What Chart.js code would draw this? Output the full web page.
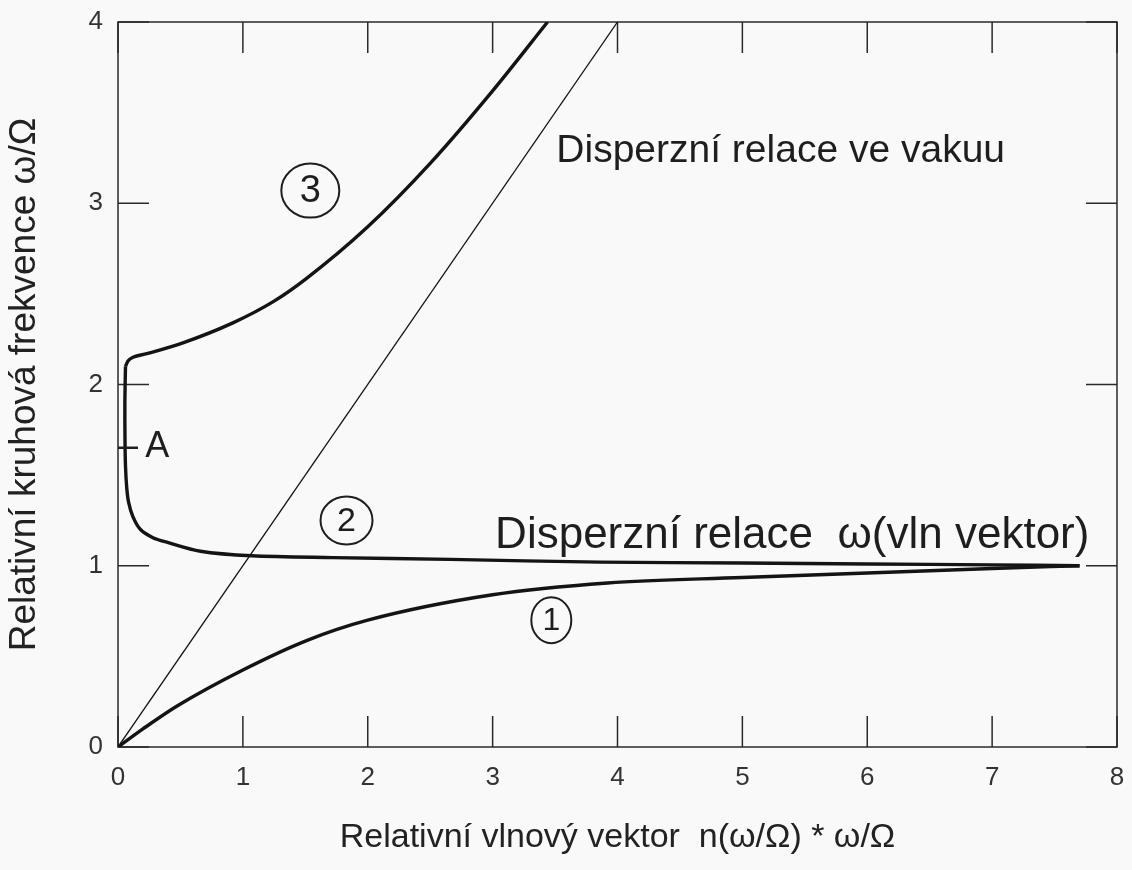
<!DOCTYPE html>
<html>
<head>
<meta charset="utf-8">
<title>Disperzní relace</title>
<script src="https://cdn.jsdelivr.net/npm/chart.js@4.4.0/dist/chart.umd.min.js"></script>
<style>
  html, body { margin: 0; padding: 0; background: #f9f9f9; }
  #graf { display: block; }
</style>
</head>
<body>
<canvas id="graf" width="1132" height="870"></canvas>
<script>
// ------ DATA ------
const tickyX = [0, 1, 2, 3, 4, 5, 6, 7, 8];
const tickyY = [0, 1, 2, 3, 4];

// primka omega = k (vakuum)
const vakuumK = [0, 4];
const vakuumW = [0, 4];

// vetev 1 (dolni)
const vetev1K = [0, 0.2, 0.47, 1.0, 1.52, 2.0, 3.0, 3.92, 5.0, 6.0, 7.0, 7.7];
const vetev1W = [0, 0.1, 0.225, 0.425, 0.59, 0.70, 0.84, 0.905, 0.935, 0.96, 0.985, 1.0];

// vetev 2 (prostredni, od A dolu k 1)
const vetev2K = [0.06, 0.055, 0.056, 0.06, 0.07, 0.085, 0.12, 0.18, 0.28, 0.39, 0.66, 1.07, 1.72, 2.66, 3.86, 5.0, 6.0, 7.0, 7.7];
const vetev2W = [2.10, 1.9, 1.7, 1.55, 1.43, 1.35, 1.27, 1.2, 1.155, 1.13, 1.08, 1.055, 1.045, 1.035, 1.02, 1.015, 1.01, 1.005, 1.0];

// vetev 3 (horni)
const vetev3K = [0.06, 0.08, 0.12, 0.23, 0.52, 0.92, 1.25, 1.5, 2.0, 2.5, 3.0, 3.44];
const vetev3W = [2.10, 2.13, 2.15, 2.17, 2.23, 2.34, 2.46, 2.58, 2.87, 3.22, 3.62, 4.0];

// ------ POPISKY ------
const popisky = [
  { text: 'Disperzní relace ve vakuu', k: 3.51, w: 3.23, size: 39 },
  { text: 'Disperzní relace  ω(vln vektor)', k: 3.02, w: 1.10, size: 44 },
  { text: '–\u2009A', k: 0.0, w: 1.60, size: 36 }
];
// cisla vetvi v krouzku
const krouzky = [
  { text: '3', k: 1.54, w: 3.07, rx: 29, ry: 27, size: 38 },
  { text: '2', k: 1.83, w: 1.25, rx: 26, ry: 24, size: 34 },
  { text: '1', k: 3.47, w: 0.70, rx: 20, ry: 23, size: 32 }
];

function body(ks, ws) {
  return ks.map((k, i) => ({ x: k, y: ws[i] }));
}

const pismo = "'Liberation Sans', Arial, sans-serif";
Chart.defaults.font.family = pismo;
Chart.defaults.color = '#2a2a2a';

const ramecek = {
  id: 'ramecek',
  beforeDraw(chart) {
    const c = chart.ctx;
    c.save();
    c.fillStyle = '#f9f9f9';
    c.fillRect(0, 0, chart.width, chart.height);
    c.restore();
  },
  beforeDatasetsDraw(chart) {
    const { ctx: c, chartArea: a, scales: { x, y } } = chart;
    const delka = 31;
    c.save();
    c.strokeStyle = '#2a2a2a';
    c.lineWidth = 1.5;
    c.strokeRect(a.left, a.top, a.right - a.left, a.bottom - a.top);
    c.beginPath();
    x.ticks.forEach(t => {
      const px = x.getPixelForValue(t.value);
      c.moveTo(px, a.bottom); c.lineTo(px, a.bottom - delka);
      c.moveTo(px, a.top); c.lineTo(px, a.top + delka);
    });
    y.ticks.forEach(t => {
      const py = y.getPixelForValue(t.value);
      c.moveTo(a.left, py); c.lineTo(a.left + delka, py);
      c.moveTo(a.right, py); c.lineTo(a.right - delka, py);
    });
    c.stroke();
    c.restore();
  }
};

const texty = {
  id: 'texty',
  afterDatasetsDraw(chart) {
    const { ctx: c, scales: { x, y } } = chart;
    c.save();
    c.fillStyle = '#1e1e1e';
    c.strokeStyle = '#1e1e1e';
    c.textAlign = 'left';
    c.textBaseline = 'alphabetic';
    popisky.forEach(p => {
      c.font = p.size + 'px ' + pismo;
      c.fillText(p.text, x.getPixelForValue(p.k), y.getPixelForValue(p.w));
    });
    c.textAlign = 'center';
    c.textBaseline = 'middle';
    c.lineWidth = 2;
    krouzky.forEach(p => {
      const px = x.getPixelForValue(p.k);
      const py = y.getPixelForValue(p.w);
      c.beginPath();
      c.ellipse(px, py, p.rx, p.ry, 0, 0, Math.PI * 2);
      c.stroke();
      c.font = p.size + 'px ' + pismo;
      c.fillText(p.text, px, py + 1);
    });
    c.restore();
  }
};

const cara = (data, sirka, hladka) => ({
  data: data,
  showLine: true,
  borderColor: '#141414',
  borderWidth: sirka,
  pointRadius: 0,
  tension: 0.3,
  cubicInterpolationMode: hladka ? 'monotone' : 'default',
  fill: false
});

const graf = new Chart(document.getElementById('graf'), {
  type: 'scatter',
  data: {
    datasets: [
      Object.assign(cara(body(vakuumK, vakuumW), 1.3, false), { tension: 0 }),
      cara(body(vetev1K, vetev1W), 3.4, true),
      cara(body(vetev2K, vetev2W), 3.4, false),
      cara(body(vetev3K, vetev3W), 3.4, true)
    ]
  },
  options: {
    responsive: false,
    animation: false,
    events: [],
    layout: { padding: { top: 22, right: 15, left: 0, bottom: 0 } },
    plugins: {
      legend: { display: false },
      tooltip: { enabled: false }
    },
    scales: {
      x: {
        type: 'linear',
        min: 0,
        max: 8,
        afterBuildTicks: s => { s.ticks = tickyX.map(v => ({ value: v })); },
        afterFit: s => {
          s.height = 123;
          s.paddingLeft = 0;
          s.paddingRight = 0;
        },
        grid: { display: false, drawTicks: false },
        border: { display: false },
        ticks: { padding: 15, font: { size: 26 }, color: '#333' },
        title: {
          display: true,
          text: 'Relativní vlnový vektor  n(ω/Ω) * ω/Ω',
          font: { size: 34 },
          color: '#222',
          padding: { top: 0, bottom: 12 }
        }
      },
      y: {
        type: 'linear',
        min: 0,
        max: 4,
        afterBuildTicks: s => { s.ticks = tickyY.map(v => ({ value: v })); },
        afterFit: s => {
          s.width = 118;
          s.paddingTop = 0;
          s.paddingBottom = 0;
        },
        grid: { display: false, drawTicks: false },
        border: { display: false },
        ticks: { padding: 15, font: { size: 26 }, color: '#333' },
        title: {
          display: true,
          text: 'Relativní kruhová frekvence ω/Ω',
          font: { size: 37 },
          color: '#222',
          padding: { top: 3, bottom: 0 }
        }
      }
    }
  },
  plugins: [ramecek, texty]
});
</script>
</body>
</html>
